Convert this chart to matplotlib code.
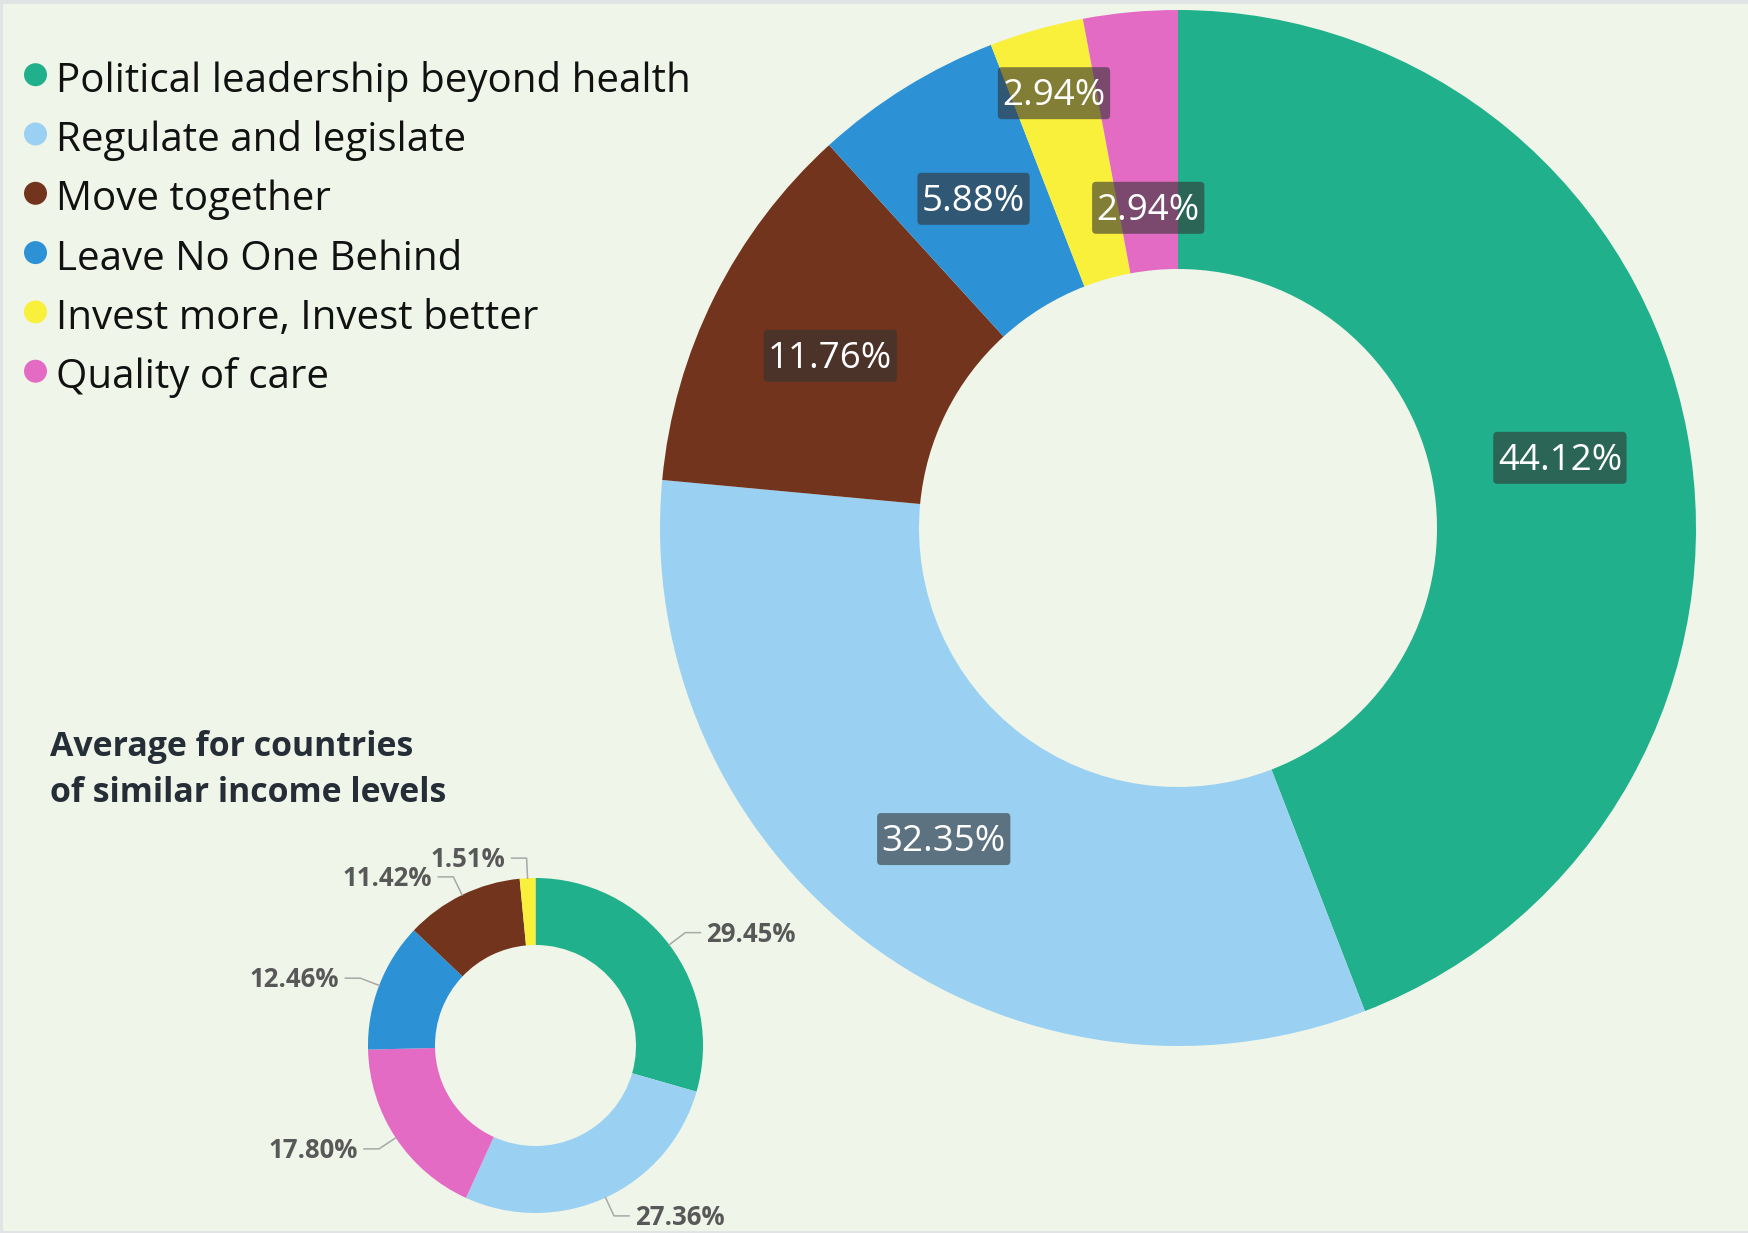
import numpy as np
import matplotlib.pyplot as plt
from matplotlib.patches import Circle, Rectangle, BoxStyle

plt.rcParams['font.family'] = ['Open Sans', 'DejaVu Sans']

W, H = 1749, 1233

categories = ["Political leadership beyond health", "Regulate and legislate",
              "Move together", "Leave No One Behind",
              "Invest more, Invest better", "Quality of care"]
cat_colors = ["#20B18C", "#9AD1F3", "#73341E", "#2D91D5", "#F9F03C", "#E46BC4"]

# country values (big donut), clockwise from 12 o'clock
country_cats = ["Political leadership beyond health", "Regulate and legislate",
                "Move together", "Leave No One Behind",
                "Invest more, Invest better", "Quality of care"]
country_share = [44.12, 32.35, 11.76, 5.88, 2.94, 2.94]

# peer average (small donut), clockwise from 12 o'clock
peer_cats = ["Political leadership beyond health", "Regulate and legislate",
             "Quality of care", "Leave No One Behind",
             "Move together", "Invest more, Invest better"]
peer_share = [29.45, 27.36, 17.80, 12.46, 11.42, 1.51]

title = "Average for countries\nof similar income levels"

col = dict(zip(categories, cat_colors))
bg = "#EFF5E8"

fig = plt.figure(figsize=(W / 100, H / 100), dpi=100, facecolor=bg)
ax = fig.add_axes([0, 0, 1, 1])
ax.set_facecolor(bg)


def mid_angles(vals):
    v = np.array(vals, dtype=float)
    cum = np.cumsum(v) - v / 2
    return np.deg2rad(90 - 360 * cum / v.sum())


def label_box(x0, y0, width, height, mutation_size):
    # more room above than below so the digits sit in the middle
    px, pt, pb = 4.5, 11.0, 5.0
    return BoxStyle.Round(pad=0, rounding_size=4)(
        x0 - px, y0 - pb, width + 2 * px, height + pt + pb, 1)


# big donut
bc = (1178, H - 528)
bR = 518
ax.pie(country_share, colors=[col[c] for c in country_cats], startangle=90,
       counterclock=False, radius=bR, center=bc,
       wedgeprops=dict(width=bR * 0.5, linewidth=0))
big_r = [0.75, 0.75, 0.75, 0.75, 0.875, 0.623]
fs_big = 26.5
for a, v, rf in zip(mid_angles(country_share), country_share, big_r):
    x = bc[0] + rf * bR * np.cos(a)
    y = bc[1] + rf * bR * np.sin(a) - 0.357 * fs_big * 100 / 72
    ax.text(x, y, f"{v:.2f}%", ha='center', va='baseline', color='white',
            fontsize=fs_big, zorder=5,
            bbox=dict(boxstyle=label_box, fc='#333333', alpha=0.6, ec='none'))

# small donut
sc = (535.5, H - 1045.5)
sR = 167.5
ax.pie(peer_share, colors=[col[c] for c in peer_cats], startangle=90,
       counterclock=False, radius=sR, center=sc,
       wedgeprops=dict(width=sR * 0.4, linewidth=0))
fs_small = 18.5
for a, v in zip(mid_angles(peer_share), peer_share):
    x0 = sc[0] + sR * np.cos(a)
    y0 = sc[1] + sR * np.sin(a)
    x1 = sc[0] + sR * 1.12 * np.cos(a)
    y1 = sc[1] + sR * 1.12 * np.sin(a)
    side = 1 if np.cos(a) >= 0 else -1
    x2 = x1 + side * 15
    ax.plot([x0, x1, x2], [y0, y1, y1], color='#A8A8A8', lw=1.1, zorder=3)
    ax.text(x2 + side * 6, y1 - 0.357 * fs_small * 100 / 72, f"{v:.2f}%",
            ha='left' if side > 0 else 'right', va='baseline',
            color='#585858', fontsize=fs_small, fontweight='bold')

ax.text(50, H - 770, title, ha='left', va='center', fontsize=24.4,
        fontweight='bold', color='#252D37', linespacing=1.5)

# legend
for i, (c, cc) in enumerate(zip(categories, cat_colors)):
    yy = H - (74.7 + 59.3 * i)
    ax.add_patch(Circle((35.5, yy), 11.5, color=cc, lw=0))
    ax.text(56, yy - 17, c, ha='left', va='baseline', fontsize=29,
            color='#111111')

# thin frame
ax.add_patch(Rectangle((0, H - 4), W, 4, color='#E1E3E5', lw=0))
ax.add_patch(Rectangle((0, 0), 3, H, color='#E1E3E5', lw=0))
ax.add_patch(Rectangle((0, 0), W, 2, color='#E1E3E5', lw=0))

ax.set_xlim(0, W)
ax.set_ylim(0, H)
ax.set_aspect('equal')
ax.axis('off')

fig.savefig("out.png", dpi=100, facecolor=bg)
